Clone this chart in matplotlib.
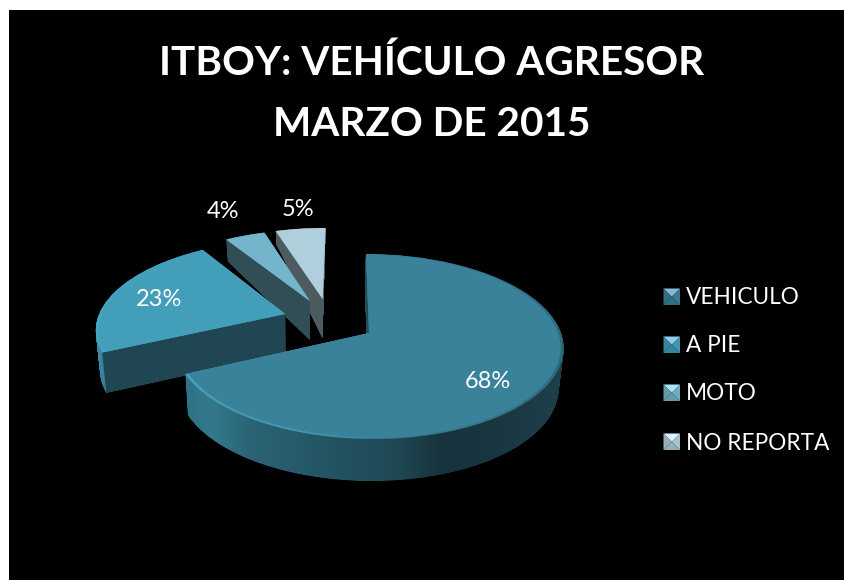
import numpy as np
import matplotlib
matplotlib.use("Agg")
import matplotlib.pyplot as plt
from matplotlib.patches import Rectangle, Polygon
from matplotlib.path import Path
from matplotlib.transforms import Transform
from matplotlib.colors import to_rgb

title_lines = ["ITBOY: VEHÍCULO AGRESOR", "MARZO DE 2015"]
categories = ["VEHICULO", "A PIE", "MOTO", "NO REPORTA"]
values = [68, 23, 4, 5]

face_colors = ["#3A8299", "#429EB9", "#75B5CC", "#AFCFDC"]
cut_colors = ["#1F4652", "#1F4652", "#314D56", "#4D5A60"]
rim_stops = [
    [(190, "#45A0BC"), (300, "#4297B0"), (380, "#3A8299"), (470, "#357A90"), (563, "#2E6A7E")],
    [(98, "#45A5C2"), (290, "#429EB9")],
    [(225, "#75B5CC"), (311, "#75B5CC")],
    [(279, "#AFCFDC"), (325, "#AFCFDC")],
]
wall_stops = [
    [(190, "#2F7386"), (210, "#33798C"), (250, "#2A6475"), (330, "#235462"),
     (400, "#1F4753"), (440, "#18333D"), (500, "#1A3641"), (558, "#1E3F4A")],
    [(98, "#3A8BA8"), (110, "#2F7388"), (290, "#1F4652")],
    [(225, "#314D56"), (311, "#314D56")],
    [(279, "#4D5A60"), (325, "#4D5A60")],
]
# plane shift of each slice in the unit-disc plane (exploded layout)
slice_shift = [(0.0, 0.0), (-0.446, 0.2166), (-0.318, 0.3728), (-0.248, 0.3975)]
label_xy = [(488, 382), (159, 300), (223, 211), (298, 209)]
legend_y = [297, 345, 393, 442]

AX, AY, RX, RY, K, SHEAR = 369.0, 333.0, 192.0, 90.5, 0.146, -0.038
XC, F = 310.0, 0.02
DEPTH_V = [-1.0, 0.4, 1.0, 1.22, 1.35, 1.5]
DEPTH_PX = [42.0, 39.0, 30.0, 22.0, 13.0, 8.0]


class Perspective(Transform):
    input_dims = output_dims = 2
    is_separable = False
    has_inverse = False
    is_affine = False

    def __init__(self, shift, z=0.0):
        super().__init__()
        self.shift, self.z = shift, z

    def transform_non_affine(self, values):
        values = np.asarray(values, float)
        u = values[:, 0] + self.shift[0]
        v = values[:, 1] + self.shift[1]
        w = 1 + K * v
        x, y = RX * u / w, RY * v / w
        px = AX + x + SHEAR * y
        py = AY - y
        px = px - (px - XC) * F * self.z
        py = py + self.z * np.interp(v, DEPTH_V, DEPTH_PX)
        return np.column_stack([px, py])


def gradient(ax, stops, clip, zorder):
    xs = np.array([s[0] for s in stops], float)
    cs = np.array([to_rgb(s[1]) for s in stops])
    grid = np.arange(80, 600)
    img = np.stack([np.interp(grid, xs, cs[:, i]) for i in range(3)], axis=-1)[None, :, :]
    im = ax.imshow(img, extent=(80, 600, 600, 0), aspect="auto", interpolation="bilinear", zorder=zorder)
    im.set_clip_path(clip, ax.transData)


fig = plt.figure(figsize=(8.44, 5.8), dpi=100, facecolor="white")
ax = fig.add_axes([0, 0, 1, 1])

outer, _ = ax.pie(values, radius=1.0, startangle=90, counterclock=False)
inner, _ = ax.pie(values, radius=0.985, startangle=90, counterclock=False, colors=face_colors)
ax.set_aspect("auto")
ax.add_patch(Rectangle((9, 10), 840, 575, facecolor="black", edgecolor="none", zorder=0))

zbase = 1
for i in [3, 2, 1, 0]:
    shift = slice_shift[i]
    base = outer[i].get_path()
    outer[i].set_visible(False)
    layers = [Perspective(shift, z).transform_path(base) for z in np.linspace(0, 1, 84)]
    gradient(ax, wall_stops[i], Path.make_compound_path(*layers), zbase)

    th = np.deg2rad(outer[i].theta2)
    edge = np.array([[0, 0], [np.cos(th), np.sin(th)]])
    if i:
        top = Perspective(shift, 0).transform_non_affine(edge)
        low = Perspective(shift, 1).transform_non_affine(edge)
        ax.add_patch(Polygon(np.vstack([top, low[::-1]]), closed=True,
                             facecolor=cut_colors[i], edgecolor="none", zorder=zbase + 1))

    rim = Perspective(shift, 0).transform_path(base)
    gradient(ax, rim_stops[i], rim, zbase + 2)
    inner[i].set_transform(Perspective(shift, 0) + ax.transData)
    inner[i].set_zorder(zbase + 3)
    inner[i].set_edgecolor("none")
    zbase += 4

for v, (x, y) in zip(values, label_xy):
    ax.text(x, y, f"{v}%", color="white", fontsize=17, family="Lato",
            ha="center", va="center", zorder=50)

ax.text(432, 63, title_lines[0], color="white", fontsize=29.2, family="Lato",
        fontweight="bold", ha="center", va="center", zorder=50)
ax.text(432, 124, title_lines[1], color="white", fontsize=29.2, family="Lato",
        fontweight="bold", ha="center", va="center", zorder=50)

for name, col, y in zip(categories, face_colors, legend_y):
    x0, x1, y0, y1 = 663.5, 680, y - 8.5, y + 8
    xm, ym = (x0 + x1) / 2, (y0 + y1) / 2
    rgb = np.array(to_rgb(col))
    light = np.clip(rgb * 1.1 + (1 - rgb) * 0.35, 0, 1)
    dark = rgb * 0.85
    side = rgb * 0.95
    ax.add_patch(Polygon([(x0, y0), (x1, y0), (xm, ym)], facecolor=light, edgecolor="none", zorder=40))
    ax.add_patch(Polygon([(x0, y0), (x0, y1), (xm, ym)], facecolor=dark, edgecolor="none", zorder=40))
    ax.add_patch(Polygon([(x1, y0), (x1, y1), (xm, ym)], facecolor=side, edgecolor="none", zorder=40))
    ax.add_patch(Polygon([(x0, y1), (x1, y1), (xm, ym)], facecolor=dark, edgecolor="none", zorder=40))
    ax.text(686, y + 1, name, color="white", fontsize=16.3, family="Lato", ha="left", va="center", zorder=50)

ax.set_xlim(0, 844)
ax.set_ylim(580, 0)
ax.axis("off")
fig.savefig("out.png", dpi=100, facecolor="white")
